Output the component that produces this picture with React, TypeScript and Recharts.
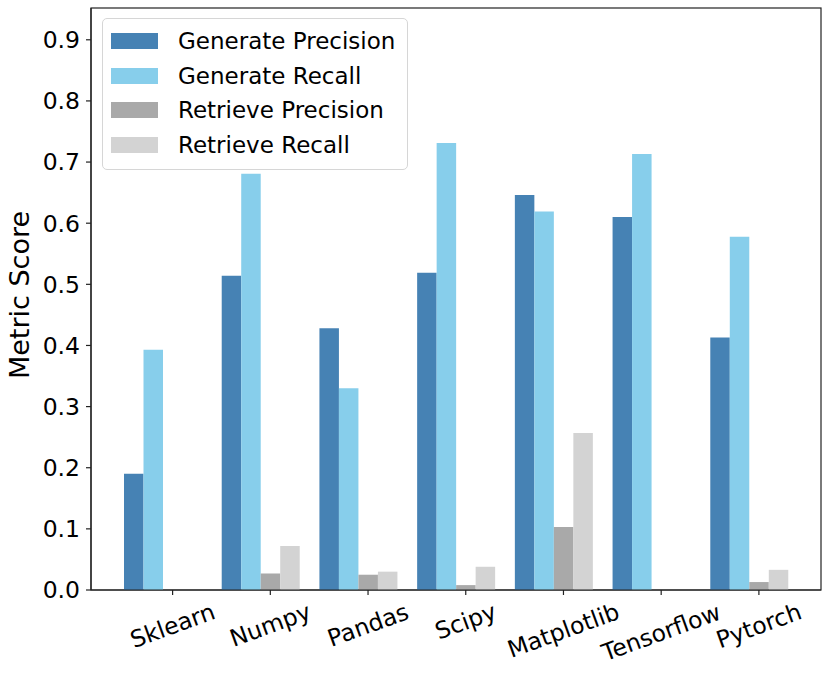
import { BarChart, Bar, XAxis, YAxis, Legend, usePlotArea } from 'recharts';

const libraries = ['Sklearn', 'Numpy', 'Pandas', 'Scipy', 'Matplotlib', 'Tensorflow', 'Pytorch'];
const generatePrecision = [0.19, 0.514, 0.428, 0.519, 0.646, 0.61, 0.413];
const generateRecall = [0.393, 0.681, 0.33, 0.731, 0.619, 0.713, 0.578];
const retrievePrecision = [0, 0.027, 0.025, 0.008, 0.103, 0, 0.013];
const retrieveRecall = [0, 0.072, 0.03, 0.038, 0.257, 0, 0.033];
const yTicks = [0, 0.1, 0.2, 0.3, 0.4, 0.5, 0.6, 0.7, 0.8, 0.9];

const series = [
  { key: 'gp', name: 'Generate Precision', color: '#4682b4', values: generatePrecision },
  { key: 'gr', name: 'Generate Recall', color: '#87ceeb', values: generateRecall },
  { key: 'rp', name: 'Retrieve Precision', color: '#a9a9a9', values: retrievePrecision },
  { key: 'rr', name: 'Retrieve Recall', color: '#d3d3d3', values: retrieveRecall },
];

const data = libraries.map((lib, i) => {
  const row: any = { lib };
  series.forEach((s) => (row[s.key] = s.values[i]));
  return row;
});

const FONT = '"DejaVu Sans", sans-serif';
const BAR = 19.5;

// rough DejaVu Sans glyph widths, to centre the rotated labels under the tick
const charW: Record<string, number> = {
  S: 0.635, k: 0.579, l: 0.278, e: 0.615, a: 0.613, r: 0.411, n: 0.634, N: 0.748, u: 0.634,
  m: 0.974, p: 0.635, y: 0.592, P: 0.603, d: 0.635, s: 0.521, c: 0.55, i: 0.278, M: 0.863,
  t: 0.392, o: 0.612, b: 0.635, T: 0.611, f: 0.352, w: 0.818, h: 0.634,
};

const XTick = (props: any) => {
  const { x, y, payload } = props;
  const tx = x + BAR / 2;
  const fs = 23.5;
  const w = String(payload.value)
    .split('')
    .reduce((sum: number, ch: string) => sum + (charW[ch] ?? 0.6), 0) * fs;
  const h = fs * 1.05;
  const rad = (20 * Math.PI) / 180;
  const cy = y + 9 + (w * Math.sin(rad) + h * Math.cos(rad)) / 2;
  return (
    <g>
      <line x1={tx} x2={tx} y1={y} y2={y + 5} stroke="#222" strokeWidth={1.2} />
      <text
        x={tx}
        y={cy}
        textAnchor="middle"
        dominantBaseline="central"
        fontSize={fs}
        fontFamily={FONT}
        fill="#000"
        transform={`rotate(-20, ${tx}, ${cy})`}
      >
        {payload.value}
      </text>
    </g>
  );
};

// matplotlib-style box round the plot area
const Frame = () => {
  const area = usePlotArea();
  if (!area) return null;
  return (
    <rect
      x={area.x}
      y={area.y}
      width={area.width}
      height={area.height}
      fill="none"
      stroke="#222"
      strokeWidth={1.2}
    />
  );
};

const LegendBox = () => (
  <div
    style={{
      width: 304,
      height: 145,
      border: '1px solid #d6d6d6',
      borderRadius: 5,
      background: 'rgba(255,255,255,0.8)',
      boxSizing: 'content-box',
      fontFamily: FONT,
      fontSize: 23,
      color: '#000',
      paddingTop: 5,
    }}
  >
    {series.map((s) => (
      <div key={s.key} style={{ display: 'flex', alignItems: 'center', height: 34.5 }}>
        <div style={{ width: 47, height: 16, background: s.color, marginLeft: 8, marginRight: 20 }} />
        <span style={{ lineHeight: '34px' }}>{s.name}</span>
      </div>
    ))}
  </div>
);

export default function App() {
  return (
    <div style={{ position: 'absolute', left: 0, top: 0, background: '#fff' }}>
      <BarChart
        width={830}
        height={677}
        data={data}
        margin={{ top: 8, right: 9, bottom: 27, left: 0 }}
        barGap={0}
        barSize={BAR}
      >
        <XAxis
          dataKey="lib"
          height={60}
          padding={{ left: 23, right: 23 }}
          interval={0}
          tickSize={0}
          tickMargin={0}
          tickLine={false}
          axisLine={{ stroke: '#222', strokeWidth: 1.2 }}
          tick={<XTick />}
        />
        <YAxis
          width={91}
          domain={[0, 0.952]}
          ticks={yTicks}
          interval={0}
          tickSize={5}
          tickMargin={6}
          tickFormatter={(v: number) => v.toFixed(1)}
          tick={{ fill: '#000', fontSize: 23.5, fontFamily: FONT }}
          tickLine={{ stroke: '#222', strokeWidth: 1.2 }}
          axisLine={{ stroke: '#222', strokeWidth: 1.2 }}
          allowDataOverflow
          label={{
            value: 'Metric Score',
            angle: -90,
            position: 'insideLeft',
            dx: 14,
            dy: -4,
            style: { fontSize: 27, fontFamily: FONT, fill: '#000', textAnchor: 'middle' },
          }}
        />
        <Legend
          layout="horizontal"
          verticalAlign="middle"
          align="center"
          content={<LegendBox />}
          wrapperStyle={{ left: 102, top: 18, width: 306, height: 152 }}
        />
        {series.map((s) => (
          <Bar key={s.key} dataKey={s.key} name={s.name} fill={s.color} isAnimationActive={false} />
        ))}
        <Frame />
      </BarChart>
    </div>
  );
}
